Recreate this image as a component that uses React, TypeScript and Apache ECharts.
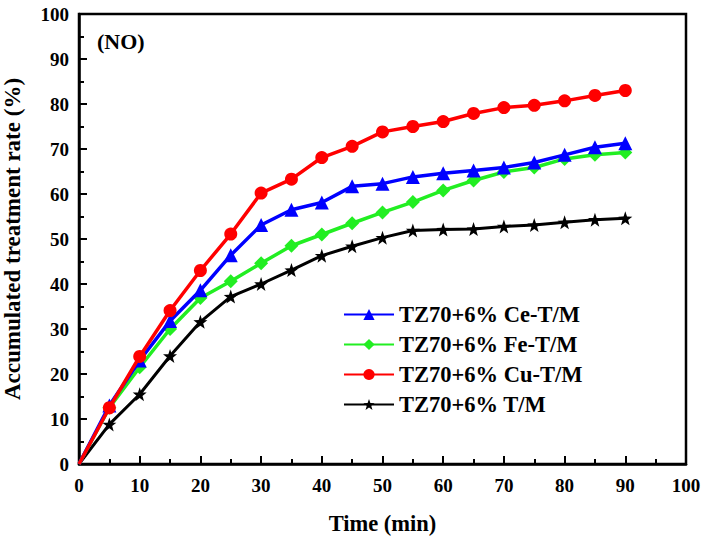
import React, { useEffect, useRef } from "react";
import * as echarts from "echarts";

const times = [0, 5, 10, 15, 20, 25, 30, 35, 40, 45, 50, 55, 60, 65, 70, 75, 80, 85, 90];
const ceValues = [0, 13, 23, 31.8, 38.6, 46.4, 53.1, 56.5, 58.1, 61.7, 62.3, 63.8, 64.6, 65.2, 65.9, 67.0, 68.7, 70.4, 71.3];
const feValues = [0, 12.5, 21.5, 30.0, 36.9, 40.6, 44.6, 48.5, 51.0, 53.5, 55.9, 58.2, 60.8, 63.0, 64.9, 65.9, 67.8, 68.7, 69.2];
const cuValues = [0, 12.5, 23.9, 34.1, 43.0, 51.1, 60.2, 63.3, 68.1, 70.6, 73.8, 75.0, 76.1, 77.9, 79.2, 79.7, 80.7, 81.9, 83.0];
const tmValues = [0, 8.8, 15.5, 24.0, 31.6, 37.2, 40.0, 43.1, 46.3, 48.4, 50.3, 51.9, 52.1, 52.2, 52.8, 53.1, 53.7, 54.3, 54.6];
const seriesNames = ["TZ70+6% Ce-T/M", "TZ70+6% Fe-T/M", "TZ70+6% Cu-T/M", "TZ70+6% T/M"];
const panelLabel = "(NO)";
const xTitle = "Time (min)";
const yTitle = "Accumulated treatment rate (%)";

const STAR =
  "path://M0,-10L2.35,-3.24L9.51,-3.09L3.8,1.24L5.88,8.09L0,4L-5.88,8.09L-3.8,1.24L-9.51,-3.09L-2.35,-3.24Z";

const FONT = "'Liberation Serif', 'Times New Roman', serif";

export default function App() {
  const ref = useRef<HTMLDivElement>(null);
  useEffect(() => {
    if (!ref.current) return;
    const chart = echarts.init(ref.current, null, { renderer: "svg" });
    const mk = (name: string, vals: number[], color: string, symbol: string, size: number, width: number, z: number) => ({
      name,
      type: "line",
      data: times.map((t, i) => [t, vals[i]]),
      symbol,
      symbolSize: (_v: any, p: any) => (p.dataIndex === 0 ? 0 : size),
      lineStyle: { color, width },
      itemStyle: { color },
      z,
    });
    chart.setOption({
      animation: false,
      backgroundColor: "#ffffff",
      textStyle: { fontFamily: FONT },
      grid: {
        left: 79,
        right: 20,
        top: 14,
        bottom: 78,
        outerBoundsMode: "none",
        containLabel: false,
        show: true,
        borderColor: "#000",
        borderWidth: 2.5,
        backgroundColor: "transparent",
      },
      legend: {
        left: 338,
        top: 298,
        orient: "vertical",
        itemWidth: 50,
        itemHeight: 14,
        itemGap: 7,
        data: seriesNames,
        textStyle: { fontFamily: FONT, fontWeight: "bold", fontSize: 22.5, color: "#000", lineHeight: 22 },
      },
      graphic: [
        {
          type: "text",
          left: 97,
          top: 30,
          style: { text: panelLabel, font: `bold 22px ${FONT}`, fill: "#000" },
        },
      ],
      xAxis: {
        type: "value",
        min: 0,
        max: 100,
        interval: 10,
        name: xTitle,
        nameLocation: "middle",
        nameGap: 48,
        nameTextStyle: { fontFamily: FONT, fontWeight: "bold", fontSize: 22.5, color: "#000" },
        axisLine: { show: true, lineStyle: { color: "#000", width: 2.5 } },
        axisTick: { show: true, inside: true, length: 8, lineStyle: { color: "#000", width: 2 } },
        minorTick: { show: true, splitNumber: 2, length: 5, lineStyle: { color: "#000", width: 2 } },
        splitLine: { show: false },
        axisLabel: { margin: 12, fontFamily: FONT, fontWeight: "bold", fontSize: 19, color: "#000" },
      },
      yAxis: {
        type: "value",
        min: 0,
        max: 100,
        interval: 10,
        name: yTitle,
        nameLocation: "middle",
        nameGap: 55,
        nameTextStyle: { fontFamily: FONT, fontWeight: "bold", fontSize: 23, color: "#000" },
        axisLine: { show: true, lineStyle: { color: "#000", width: 2.5 } },
        axisTick: { show: true, inside: true, length: 8, lineStyle: { color: "#000", width: 2 } },
        minorTick: { show: true, splitNumber: 2, length: 5, lineStyle: { color: "#000", width: 2 } },
        splitLine: { show: false },
        axisLabel: { margin: 10, fontFamily: FONT, fontWeight: "bold", fontSize: 19, color: "#000" },
      },
      series: [
        mk(seriesNames[3], tmValues, "#000000", STAR, 14, 3, 2),
        mk(seriesNames[1], feValues, "#22ee22", "diamond", 14, 3.5, 3),
        mk(seriesNames[0], ceValues, "#0000ff", "triangle", 14, 3.5, 4),
        mk(seriesNames[2], cuValues, "#ff0000", "circle", 13, 3.5, 5),
      ],
    });
    return () => chart.dispose();
  }, []);
  return <div ref={ref} style={{ width: 706, height: 542, position: "absolute", left: 0, top: 0 }} />;
}
